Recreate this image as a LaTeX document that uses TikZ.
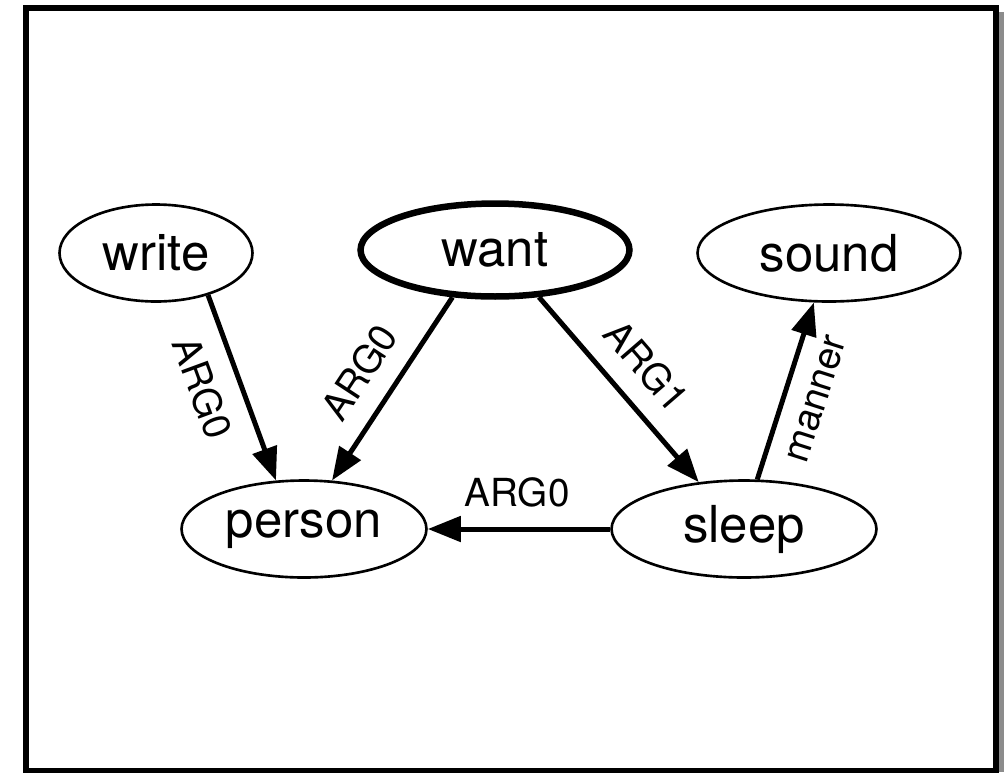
\documentclass[tikz,border=0pt]{standalone}
\usepackage{fontspec}
\setmainfont{TeX Gyre Heros}
\usetikzlibrary{arrows.meta, shapes.geometric}

\begin{document}
\begin{tikzpicture}[x=0.02cm, y=-0.02cm,
    concept/.style={ellipse, draw, line width=1.5pt, inner sep=0pt, minimum height=1.94cm, font=\fontsize{29}{30}\selectfont},
    relation/.style={-{Triangle[length=0.66cm, width=0.5cm]}, line width=0.1cm},
    role/.style={font=\fontsize{22}{24}\selectfont, inner sep=0pt, outer sep=0pt, sloped}]
    \useasboundingbox (0,0) rectangle (1004,772);

    % Frame
    \fill[black!45] (998.5,12) rectangle (1004,772);
    \draw[line width=0.12cm] (26,8) rectangle (995.5,771);

    % Concepts
    \node[concept, minimum width=3.86cm] (write) at (156,253) {write};
    \node[concept, minimum width=5.38cm, minimum height=1.86cm, line width=0.13cm] (want) at (495,250) {want};
    \node[concept, minimum width=5.26cm] (sound) at (829,253) {sound};
    \node[concept, minimum width=4.9cm] (person) at (304,529) {person};
    \node[concept, minimum width=5.3cm] (sleep) at (744,529) {sleep};

    % Relations
    \draw[relation] (write.-39) -- node[role, pos=0.43, below=0.44cm] {ARG0} (person.120);
    \draw[relation] (want.228) -- node[role, pos=0.52, above=0.44cm] {ARG0} (person.60);
    \draw[relation] (want.-47) -- node[role, pos=0.5, above=0.44cm] {ARG1} (sleep.134);
    \draw[relation] (sleep.west) -- node[role, pos=0.51, above=0.44cm] {ARG0} (person.east);
    \draw[relation] (sleep.75) -- node[role, pos=0.51, below=0.44cm] {manner} (sound.253);

\end{tikzpicture}
\end{document}
